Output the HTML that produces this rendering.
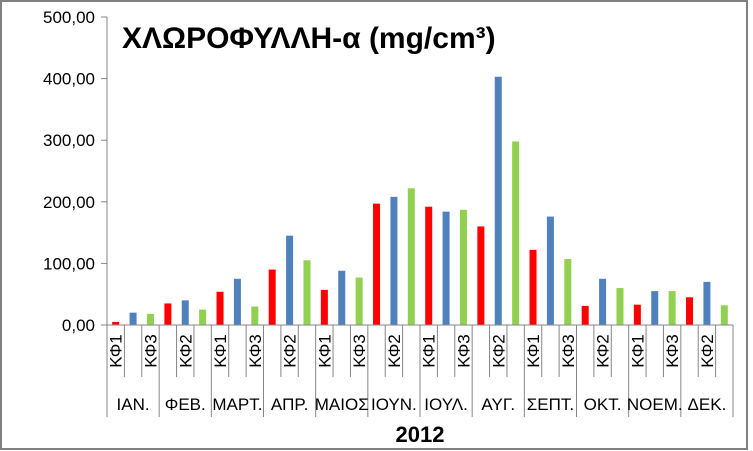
<!DOCTYPE html>
<html><head><meta charset="utf-8"><style>
body{margin:0;background:#fff;}
#c{position:relative;width:753px;height:451px;overflow:hidden;font-family:"Liberation Sans","DejaVu Sans",sans-serif;}
</style></head><body>
<div id="c">
<svg id="s" width="753" height="451" xmlns="http://www.w3.org/2000/svg">
<rect x="1" y="1" width="746" height="448" fill="#fff" stroke="#808080" stroke-width="2"/>
<text x="122" y="48" font-size="30" font-weight="bold" fill="#000">ΧΛΩΡΟΦΥΛΛΗ-α (mg/cm³)</text>
<text x="420" y="442" font-size="22" font-weight="bold" text-anchor="middle" fill="#000">2012</text>
</svg>
</div>
<script>
const months=["ΙΑΝ.","ΦΕΒ.","ΜΑΡΤ.","ΑΠΡ.","ΜΑΙΟΣ","ΙΟΥΝ.","ΙΟΥΛ.","ΑΥΓ.","ΣΕΠΤ.","ΟΚΤ.","ΝΟΕΜ.","ΔΕΚ."];
const series=["ΚΦ1","ΚΦ2","ΚΦ3"];
const kf1=[5,35,54,90,57,197,192,160,122,31,33,45];
const kf2=[20,40,75,145,88,208,184,403,176,75,55,70];
const kf3=[18,25,30,105,77,222,187,298,107,60,55,32];
const yTicks=[0,100,200,300,400,500];
const yTickLabels=["0,00","100,00","200,00","300,00","400,00","500,00"];
const colors=["#ff0000","#4f81bd","#92d050"];
const S=document.getElementById('s');
const NS="http://www.w3.org/2000/svg";
const X0=107,X1=733,Y0=325,Y1=17,YMAX=500;
const nCat=months.length*3, cw=(X1-X0)/nCat;
function y(v){return Y0-(v/YMAX)*(Y0-Y1);}
function xc(i){return X0+cw*(i+0.5);}
function mk(t,a,txt){const e=document.createElementNS(NS,t);for(const k in a)e.setAttribute(k,a[k]);if(txt!==undefined)e.textContent=txt;S.appendChild(e);return e;}
// y axis
let ax=mk('line',{x1:X0,y1:Y1,x2:X0,y2:Y0,stroke:'#868686'});


yTicks.forEach((v,i)=>{
 let t=mk('line',{x1:X0-6,y1:y(v),x2:X0,y2:y(v),stroke:'#868686'});
 
 
 let l=mk('text',{x:95,y:y(v)+6,'font-size':17,'text-anchor':'end',fill:'#000'},yTickLabels[i]);
 
 
});
// bars
const data=[kf1,kf2,kf3];
months.forEach((m,mi)=>{
 data.forEach((arr,si)=>{
  const i=mi*3+si,bw=7;
  let r=mk('rect',{x:xc(i)-bw/2,y:y(arr[mi]),width:bw,height:Y0-y(arr[mi]),fill:colors[si]});
  
  
 });
});
// x axis
let xa=mk('line',{x1:X0-6,y1:Y0,x2:X1,y2:Y0,stroke:'#868686'});


for(let k=0;k<=nCat;k++){
 const big=k%3===0;
 let d=mk('line',{x1:X0+cw*k,y1:Y0,x2:X0+cw*k,y2:big?417:377,stroke:'#868686'});
 
 
}
for(let i=0;i<nCat;i+=2){
 const cx=xc(i);
 let t=mk('text',{x:0,y:0,'font-size':17,'text-anchor':'middle',fill:'#000',transform:`translate(${cx+6},351) rotate(-90)`},series[i%3]);
 
 
}
months.forEach((m,mi)=>{
 let t=mk('text',{x:X0+cw*(mi*3+1.5),y:410,'font-size':17,'text-anchor':'middle',fill:'#000'},m);
 
 
});
</script>
</body></html>
